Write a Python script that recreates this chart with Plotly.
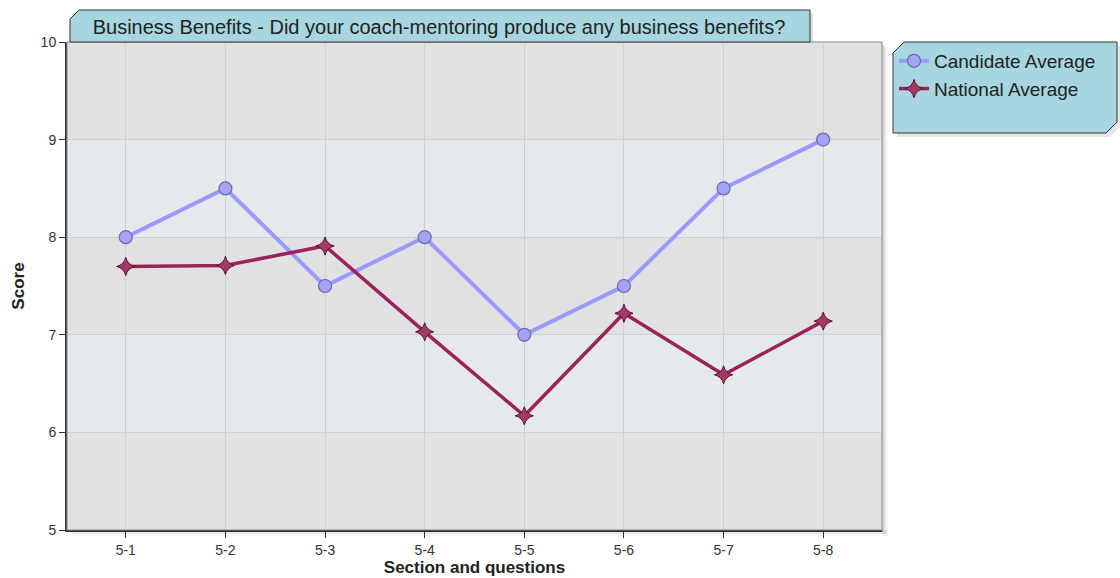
import plotly.graph_objects as go

# Survey section 5 results
questions = ["5-1", "5-2", "5-3", "5-4", "5-5", "5-6", "5-7", "5-8"]
candidate_avg = [8.0, 8.5, 7.5, 8.0, 7.0, 7.5, 8.5, 9.0]
national_avg = [7.70, 7.71, 7.91, 7.03, 6.17, 7.22, 6.59, 7.14]
y_ticks = [5, 6, 7, 8, 9, 10]

title_text = "Business Benefits - Did your coach-mentoring produce any business benefits?"

W, H = 1120, 578
ML, MR, MT, MB = 67, 238, 42, 48
PW, PH = W - ML - MR, H - MT - MB


def px_x(px):
    return (px - ML) / PW


def px_y(py):
    return (H - MB - py) / PH


FONT = "Liberation Sans, Arial, sans-serif"

fig = go.Figure()

fig.add_trace(go.Scatter(
    x=questions, y=candidate_avg, name="Candidate Average",
    mode="lines+markers",
    line=dict(color="#9a9aff", width=4),
    marker=dict(symbol="circle", size=13, color="#a3a3f7",
                line=dict(color="#6a6aa8", width=1.2)),
))
fig.add_trace(go.Scatter(
    x=questions, y=national_avg, name="National Average",
    mode="lines+markers",
    line=dict(color="#9a2457", width=3.5),
    marker=dict(symbol="star-diamond", size=13, color="#a33a66",
                line=dict(color="#5a1030", width=1)),
))

shapes = []
# drop shadow of the plot frame (outside the plot only)
for i, a in enumerate([0.10, 0.06, 0.03]):
    shapes.append(dict(type="rect", xref="paper", yref="paper",
                       x0=px_x(70 + i), x1=px_x(884 + 2 * i), y0=px_y(532 + 2 * i), y1=px_y(530),
                       fillcolor=f"rgba(0,0,0,{a})", line=dict(width=0)))
    shapes.append(dict(type="rect", xref="paper", yref="paper",
                       x0=px_x(882), x1=px_x(884 + 2 * i), y0=px_y(532 + 2 * i), y1=px_y(45 + i),
                       fillcolor=f"rgba(0,0,0,{a})", line=dict(width=0)))

# alternating horizontal bands
band_cols = {5: "#e1e1e3", 6: "#e6e9ec", 7: "#e1e1e3", 8: "#e6e9ec", 9: "#e1e1e3"}
for lo, col in band_cols.items():
    shapes.append(dict(type="rect", xref="paper", yref="y", x0=0, x1=1,
                       y0=lo, y1=lo + 1, fillcolor=col, line=dict(width=0),
                       layer="below"))

# light frame on top/right
shapes.append(dict(type="rect", xref="paper", yref="paper",
                   x0=0, x1=1, y0=0, y1=1,
                   line=dict(color="#8a8a8a", width=1), layer="above"))

# title tab with clipped corner
tx0, tx1 = px_x(70), px_x(810)
ty0, ty1 = px_y(42), px_y(10)
cdx, cdy = 9 / PW, 9 / PH
shapes.append(dict(type="path", xref="paper", yref="paper",
                   path=f"M {tx0+3/PW},{ty1-3/PH-cdy} L {tx0+3/PW+cdx},{ty1-3/PH} "
                        f"L {tx1+3/PW},{ty1-3/PH} L {tx1+3/PW},{ty0} Z",
                   fillcolor="rgba(0,0,0,0.12)", line=dict(width=0)))
shapes.append(dict(type="path", xref="paper", yref="paper",
                   path=f"M {tx0},{ty0} L {tx0},{ty1-cdy} L {tx0+cdx},{ty1} "
                        f"L {tx1},{ty1} L {tx1},{ty0} Z",
                   fillcolor="#a7d6e1", line=dict(color="#333333", width=1)))

# legend box with clipped corners
lx0, lx1 = px_x(893), px_x(1117)
ly0, ly1 = px_y(133), px_y(42)
ldx, ldy = 11 / PW, 11 / PH
sx, sy = 4 / PW, 4 / PH
shapes.append(dict(type="path", xref="paper", yref="paper",
                   path=f"M {lx0+sx},{ly0-sy} L {lx0+sx},{ly1-sy-ldy} L {lx0+sx+ldx},{ly1-sy} "
                        f"L {lx1+sx},{ly1-sy} L {lx1+sx},{ly0-sy+ldy} L {lx1+sx-ldx},{ly0-sy} Z",
                   fillcolor="rgba(0,0,0,0.10)", line=dict(width=0)))
shapes.append(dict(type="path", xref="paper", yref="paper",
                   path=f"M {lx0},{ly0} L {lx0},{ly1-ldy} L {lx0+ldx},{ly1} "
                        f"L {lx1},{ly1} L {lx1},{ly0+ldy} L {lx1-ldx},{ly0} Z",
                   fillcolor="#a7d6e1", line=dict(color="#333333", width=1)))

fig.update_layout(
    width=W, height=H,
    margin=dict(l=ML, r=MR, t=MT, b=MB, autoexpand=False),
    paper_bgcolor="white",
    plot_bgcolor="#e1e1e3",
    font=dict(family=FONT, color="#333333"),
    shapes=shapes,
    title=dict(text=title_text, x=px_x(439), xref="paper", xanchor="center",
               y=1 - 27 / H, yref="container", yanchor="middle",
               font=dict(size=20, color="#222222", family=FONT)),
    legend=dict(x=px_x(894), y=px_y(42), xanchor="left", yanchor="top",
                xref="paper", yref="paper",
                bgcolor="rgba(0,0,0,0)", borderwidth=0,
                font=dict(size=19, color="#222222", family=FONT),
                tracegroupgap=0, itemwidth=30),
    showlegend=True,
)

fig.update_xaxes(
    range=[-0.59, 7.59],
    showgrid=True, gridcolor="#cfcfd1", gridwidth=1,
    showline=True, linecolor="#333333", linewidth=2,
    ticks="outside", ticklen=6, tickcolor="#333333",
    tickfont=dict(size=14, color="#333333"),
    title=dict(text="<b>Section and questions</b>", font=dict(size=17, color="#222222"),
               standoff=2),
    zeroline=False, automargin=False,
)
fig.update_yaxes(
    range=[5, 10], tickvals=y_ticks,
    showgrid=True, gridcolor="#cfcfd1", gridwidth=1,
    showline=True, linecolor="#333333", linewidth=2,
    ticks="outside", ticklen=6, tickcolor="#333333",
    tickfont=dict(size=14, color="#333333"),
    title=dict(text="<b>Score</b>", font=dict(size=17, color="#222222"), standoff=12),
    zeroline=False, automargin=False,
)

fig.write_html("out.html")
